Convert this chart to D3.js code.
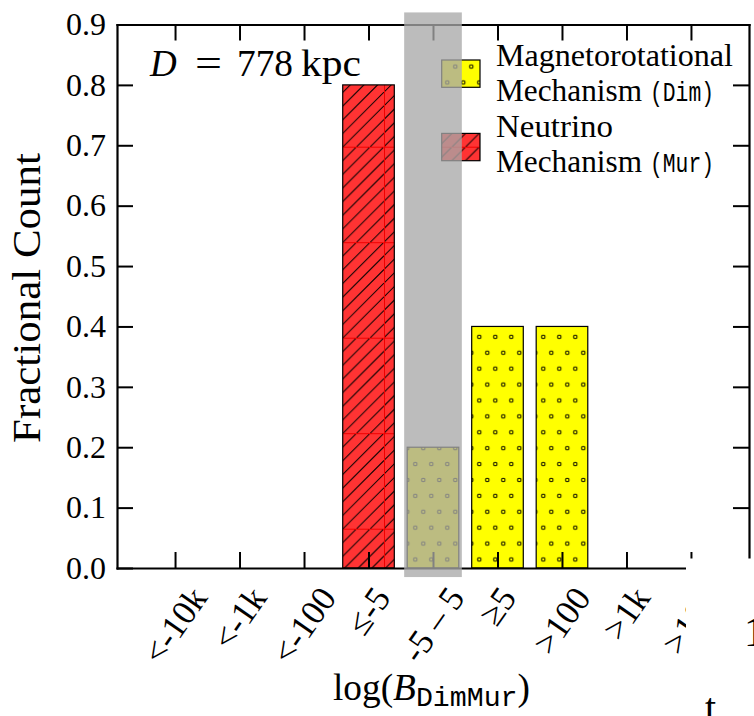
<!DOCTYPE html>
<html>
<head>
<meta charset="utf-8">
<script src="https://cdn.jsdelivr.net/npm/d3@7"></script>
<style>
  body { margin: 0; background: #fff; }
  svg { display: block; }
</style>
</head>
<body>
<svg id="chart" width="754" height="716"></svg>
<script>
// Fractional count of Bayes-factor bins, Dim (magnetorotational) vs Mur (neutrino)
const categories = ["<-10k", "<-1k", "<-100", "≤-5", "-5 – 5", "≥5", ">100", ">1k", ">10k"];
const murFraction = [0, 0, 0, 0.8, 0, 0, 0, 0, 0];
const dimFraction = [0, 0, 0, 0, 0.2, 0.4, 0.4, 0, 0];
const yTickValues = [0, 0.1, 0.2, 0.3, 0.4, 0.5, 0.6, 0.7, 0.8, 0.9];
const yTickLabels = ["0.0", "0.1", "0.2", "0.3", "0.4", "0.5", "0.6", "0.7", "0.8", "0.9"];
const inconclusiveBin = "-5 – 5";
const distanceKpc = "778";

const SERIF = "'Liberation Serif', 'DejaVu Serif', serif";
const MONO = "'Liberation Mono', 'DejaVu Sans Mono', monospace";

const frame = { left: 117, right: 749, top: 24.5, bottom: 568 };
const x = d3.scalePoint().domain(categories).range([frame.left, frame.right]).padding(0.9);
const y = d3.scaleLinear().domain([0, 0.9]).range([frame.bottom, frame.top]);
const step = x.step();
const barW = step * 0.8;

const svg = d3.select("#chart");
svg.append("rect").attr("width", 754).attr("height", 716).attr("fill", "#fff");
const defs = svg.append("defs");

// red fill with "//" hatching, tiled in square blocks (faint seams at block edges)
const T = 95.5, hatchN = 7, hs = T / hatchN;
const redHatch = defs.append("pattern").attr("id", "redHatch")
  .attr("patternUnits", "userSpaceOnUse")
  .attr("width", T).attr("height", T).attr("x", 384).attr("y", 146.7);
redHatch.append("rect").attr("width", T).attr("height", T).attr("fill", "#ff3333");
redHatch.append("path")
  .attr("d", d3.range(0, 2 * hatchN + 1).map(k => {
    const c = k * hs;
    const x0 = Math.max(0, c - T), x1 = Math.min(T, c);
    return `M${x0},${c - x0}L${x1},${c - x1}`;
  }).join(""))
  .attr("stroke", "#000").attr("stroke-width", 1);
redHatch.append("path").attr("d", `M0,0.5H${T}M0.5,0V${T}`)
  .attr("stroke", "#f00000").attr("stroke-width", 1);

// small open circles ("o" hatch) on a staggered grid
const dots = defs.append("pattern").attr("id", "dots")
  .attr("patternUnits", "userSpaceOnUse")
  .attr("width", 16).attr("height", 31.8).attr("x", 475.3).attr("y", 428.3);
[[4, 4], [12, 19.9]].forEach(([cx, cy]) => {
  dots.append("circle").attr("cx", cx).attr("cy", cy).attr("r", 1.8)
    .attr("fill", "none").attr("stroke", "#000").attr("stroke-width", 1);
});

const rows = categories.map((c, i) => ({ c, mur: murFraction[i], dim: dimFraction[i] }));

// bars
const gBars = svg.append("g");
const murRows = rows.filter(d => d.mur > 0);
gBars.selectAll("rect.mur").data(murRows).join("rect").attr("class", "mur")
  .attr("x", d => x(d.c) - barW / 2).attr("width", barW)
  .attr("y", d => y(d.mur)).attr("height", d => y(0) - y(d.mur))
  .attr("fill", "url(#redHatch)").attr("stroke", "#000").attr("stroke-width", 1.2);

const dimRows = rows.filter(d => d.dim > 0);
gBars.selectAll("rect.dim").data(dimRows).join("rect").attr("class", "dim")
  .attr("x", d => x(d.c) - barW / 2).attr("width", barW)
  .attr("y", d => y(d.dim)).attr("height", d => y(0) - y(d.dim))
  .attr("fill", "#ffff00");
gBars.selectAll("rect.dimdots").data(dimRows).join("rect").attr("class", "dimdots")
  .attr("x", d => x(d.c) - barW / 2).attr("width", barW)
  .attr("y", d => y(d.dim)).attr("height", d => y(0) - y(d.dim))
  .attr("fill", "url(#dots)").attr("stroke", "#000").attr("stroke-width", 1.2);

// axes: ticks point inward on all four sides
function styleAxis(g) {
  g.attr("font-family", SERIF).attr("font-size", 32);
  g.select(".domain").attr("stroke", "#000").attr("stroke-width", 2.2).attr("stroke-linecap", "square");
  g.selectAll(".tick line").attr("stroke", "#000").attr("stroke-width", 2);
  g.selectAll(".tick text").attr("fill", "#000");
}
svg.append("g").attr("transform", `translate(${frame.left},0)`)
  .call(d3.axisLeft(y).tickValues(yTickValues).tickFormat((d, i) => yTickLabels[i])
    .tickSizeInner(-16).tickSizeOuter(0).tickPadding(11))
  .call(styleAxis);
svg.append("g").attr("transform", `translate(${frame.right},0)`)
  .call(d3.axisRight(y).tickValues(yTickValues).tickFormat(() => "")
    .tickSizeInner(-16).tickSizeOuter(0))
  .call(styleAxis);
svg.append("g").attr("transform", `translate(0,${frame.bottom})`)
  .call(d3.axisBottom(x).tickFormat(() => "").tickSizeInner(-16).tickSizeOuter(0))
  .call(styleAxis);
svg.append("g").attr("transform", `translate(0,${frame.top})`)
  .call(d3.axisTop(x).tickFormat(() => "").tickSizeInner(-16).tickSizeOuter(0))
  .call(styleAxis);

// rotated category labels, centred under each tick
const ang = 55, rad = ang * Math.PI / 180, tfs = 35;
const gXL = svg.append("g").attr("font-family", SERIF).attr("font-size", tfs);
categories.forEach(c => {
  const t = gXL.append("text").attr("text-anchor", "middle")
    .attr("dominant-baseline", "central").attr("fill", "#000").text(c);
  const w = t.node().getComputedTextLength();
  const ext = w * Math.sin(rad) + 0.72 * tfs * Math.cos(rad);
  t.attr("transform", `translate(${x(c)},${584 + ext / 2}) rotate(${-ang})`);
});

// axis titles
svg.append("text").attr("transform", "translate(40,298) rotate(-90)")
  .attr("text-anchor", "middle").attr("font-family", SERIF).attr("font-size", 39)
  .attr("textLength", 290).attr("lengthAdjust", "spacingAndGlyphs")
  .attr("fill", "#000").text("Fractional Count");

const xt = svg.append("text").attr("x", 333).attr("y", 700)
  .attr("font-family", SERIF).attr("font-size", 37).attr("fill", "#000")
  .attr("textLength", 197).attr("lengthAdjust", "spacingAndGlyphs");
xt.append("tspan").text("log(");
xt.append("tspan").attr("font-style", "italic").text("B");
xt.append("tspan").attr("font-family", MONO).attr("font-size", 28).attr("dy", 6).text("DimMur");
xt.append("tspan").attr("dy", -6).text(")");

// distance annotation
const gD = svg.append("g").attr("font-family", SERIF).attr("font-size", 37).attr("fill", "#000");
gD.append("text").attr("x", 150).attr("y", 75.7).attr("font-style", "italic").text("D");
gD.append("text").attr("x", 195).attr("y", 75.7)
  .attr("textLength", 27).attr("lengthAdjust", "spacingAndGlyphs").text("=");
gD.append("text").attr("x", 237).attr("y", 75.7)
  .attr("textLength", 56).attr("lengthAdjust", "spacingAndGlyphs").text(distanceKpc);
gD.append("text").attr("x", 301).attr("y", 75.7)
  .attr("textLength", 60).attr("lengthAdjust", "spacingAndGlyphs").text("kpc");

// legend
const legend = svg.append("g");
const sw = { x: 441.7, w: 38.3, h: 27.3 };
legend.append("rect").attr("x", sw.x).attr("y", 60).attr("width", sw.w).attr("height", sw.h)
  .attr("fill", "#ffff00");
legend.append("rect").attr("x", sw.x).attr("y", 60).attr("width", sw.w).attr("height", sw.h)
  .attr("fill", "url(#dots)").attr("stroke", "#000").attr("stroke-width", 1.2);
legend.append("rect").attr("x", sw.x).attr("y", 133.4).attr("width", sw.w).attr("height", sw.h)
  .attr("fill", "url(#redHatch)").attr("stroke", "#000").attr("stroke-width", 1.2);

function serifLine(txt, yb, len) {
  legend.append("text").attr("x", 496).attr("y", yb).attr("font-family", SERIF)
    .attr("font-size", 32).attr("fill", "#000")
    .attr("textLength", len).attr("lengthAdjust", "spacingAndGlyphs").text(txt);
}
function monoPart(txt, yb) {
  legend.append("text").attr("x", 650).attr("y", yb).attr("font-family", MONO)
    .attr("font-size", 28).attr("fill", "#000")
    .attr("textLength", 64).attr("lengthAdjust", "spacingAndGlyphs").text(txt);
}
serifLine("Magnetorotational", 66, 237);
serifLine("Mechanism", 101, 146); monoPart("(Dim)", 101);
serifLine("Neutrino", 137, 117);
serifLine("Mechanism", 172, 146); monoPart("(Mur)", 172);

// edge of the adjacent panel
svg.append("rect").attr("x", 686).attr("y", 558.5).attr("width", 70).attr("height", 160).attr("fill", "#fff");
svg.append("text").attr("x", 744).attr("y", 646).attr("font-family", SERIF)
  .attr("font-size", 42).attr("fill", "#000").text("1");
svg.append("text").attr("x", 705).attr("y", 721).attr("font-family", SERIF)
  .attr("font-size", 40).attr("fill", "#000").text("t");

// shaded inconclusive region, drawn over everything
const bandHalf = 0.447 * step;
svg.append("rect")
  .attr("x", x(inconclusiveBin) - bandHalf).attr("width", 2 * bandHalf)
  .attr("y", y(0.92)).attr("height", y(-0.015) - y(0.92))
  .attr("fill", "#a8a8a8").attr("fill-opacity", 0.77);
</script>
</body>
</html>
